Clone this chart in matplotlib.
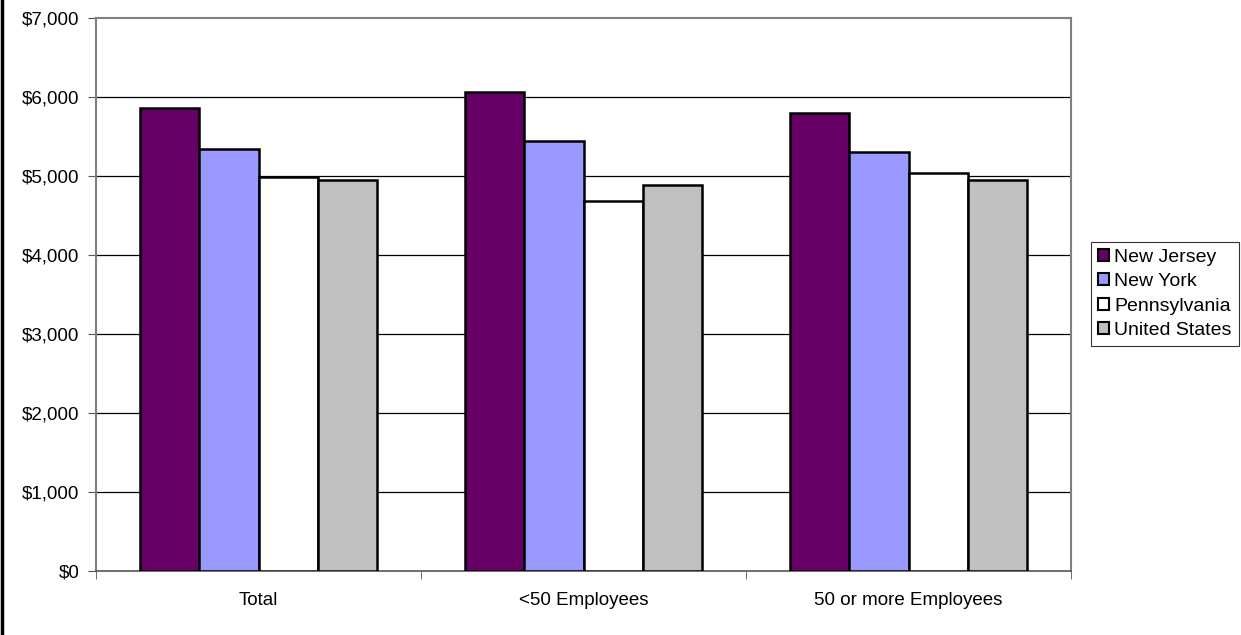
import numpy as np
import matplotlib.pyplot as plt
from matplotlib.lines import Line2D
from matplotlib.patches import Patch
from matplotlib.ticker import FuncFormatter, FixedLocator

plt.rcParams['font.family'] = ['Liberation Sans', 'DejaVu Sans']

# data
categories = ['Total', '<50 Employees', '50 or more Employees']
states = ['New Jersey', 'New York', 'Pennsylvania', 'United States']
new_jersey = [5860, 6060, 5795]
new_york = [5340, 5440, 5300]
pennsylvania = [4985, 4685, 5040]
united_states = [4950, 4885, 4950]
colors = ['#660066', '#9999FF', '#FFFFFF', '#C0C0C0']

series = [new_jersey, new_york, pennsylvania, united_states]

fig = plt.figure(figsize=(12.41, 6.35), dpi=100)
ax = fig.add_axes([96 / 1241, 1 - 571 / 635, (1071 - 96) / 1241, (571 - 18) / 635])

x = np.arange(len(categories))
width = 0.182
for i, (vals, name, col) in enumerate(zip(series, states, colors)):
    ax.bar(x + (i - 1.5) * width, vals, width, color=col, edgecolor='black',
           linewidth=1.8, label=name, zorder=3)

ax.set_xlim(-0.5, 2.5)
ax.set_ylim(0, 7000)
ax.set_yticks(np.arange(0, 7001, 1000))
ax.yaxis.set_major_formatter(FuncFormatter(lambda v, p: f'${v:,.0f}'))
for y in range(1000, 7000, 1000):
    ax.axhline(y, color='black', linewidth=0.9, zorder=1)

ax.set_xticks(x)
ax.set_xticklabels(categories, fontsize=13.5)
ax.tick_params(axis='x', length=0, pad=15)
ax.xaxis.set_minor_locator(FixedLocator([-0.5, 0.5, 1.5, 2.5]))
ax.tick_params(axis='x', which='minor', length=6, color='#555555')
ax.tick_params(axis='y', labelsize=13.5, length=6, color='#555555', pad=6)

for side in ['top', 'right', 'left']:
    ax.spines[side].set_color('#808080')
    ax.spines[side].set_linewidth(1.5)
ax.spines['bottom'].set_color('#555555')
ax.spines['bottom'].set_linewidth(1.2)

handles = [Patch(facecolor=c, edgecolor='black', linewidth=1.5) for c in colors]
leg = fig.legend(handles, states, loc='upper left',
                 bbox_to_anchor=(1091 / 1241, 1 - 242 / 635), fontsize=14,
                 frameon=True, fancybox=False, edgecolor='black',
                 handlelength=0.55, handleheight=0.55, handletextpad=0.3,
                 labelspacing=0.38, borderpad=0.35, borderaxespad=0)
leg.get_frame().set_linewidth(0.8)

# figure border on the left edge
fig.add_artist(Line2D([2 / 1241, 2 / 1241], [0, 1], color='black', linewidth=2.5))

fig.savefig('out.png', dpi=100)
